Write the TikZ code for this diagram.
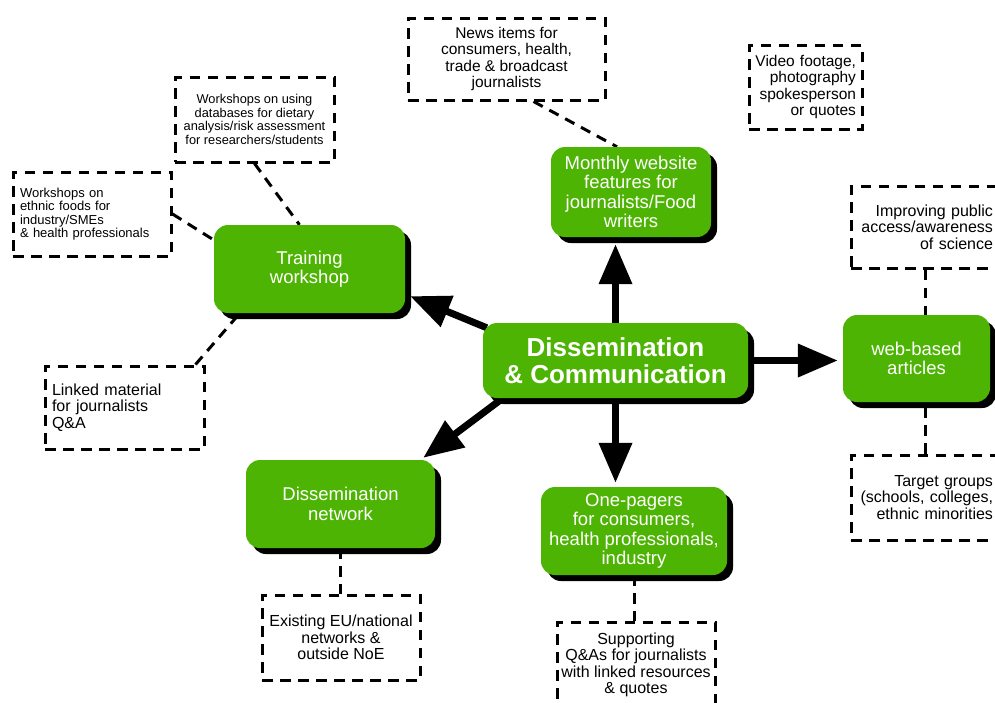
\documentclass[tikz,border=0pt]{standalone}
\usepackage{fontspec}
\setmainfont{Liberation Sans}
\usetikzlibrary{arrows.meta,shadows,backgrounds}
\definecolor{dcgreen}{RGB}{78,180,4}
\tikzset{
	hub/.style={rectangle, rounded corners=14pt, fill=dcgreen, text=white, align=center, inner sep=2pt,
		font=\fontsize{18.5}{19.5}\selectfont, general shadow={fill=black, shadow xshift=6pt, shadow yshift=-6pt}},
	note/.style={rectangle, draw, line width=3pt, dash pattern=on 10.5pt off 7.5pt, inner sep=7pt,
		font=\fontsize{15.5}{16.5}\selectfont},
	link/.style={line width=3pt, dash pattern=on 10.5pt off 7.5pt},
	flow/.style={line width=7pt, -{Triangle[width=32pt,length=40pt]}},
	boxsize/.style 2 args={minimum width=#1pt, minimum height=#2pt}
}
\begin{document}
\begin{tikzpicture}[x=1pt,y=-1pt]
	\useasboundingbox (0,0) rectangle (995,702);
	\clip (0,0) rectangle (995,702);
	\node[hub, font=\bfseries\fontsize{26}{27}\selectfont, boxsize={265}{75}] (dc) at (615.5,360.5) {Dissemination\\\& Communication};
	\node[hub, boxsize={160}{90}] (web) at (631,192) {Monthly website\\features for\\journalists/Food\\writers};
	\node[hub, boxsize={191}{88}] (train) at (309.5,269) {Training\\workshop};
	\node[hub, boxsize={147}{87}] (art) at (916.5,358.5) {web-based\\articles};
	\node[hub, boxsize={189}{88}] (net) at (340.5,504) {Dissemination\\network};
	\node[hub, boxsize={186}{88}] (onep) at (634,531) {One-pagers\\for consumers,\\health professionals,\\industry};
	\node[note, boxsize={197}{82}, align=center] (news) at (506.5,59) {News items for\\consumers, health,\\trade \& broadcast\\journalists};
	\node[note, boxsize={113}{84}, text width=101pt, inner xsep=6pt, align=right] (video) at (805.5,87) {Video footage,\\photography\\spokesperson\\or quotes};
	\node[note, boxsize={159}{85}, align=center, font=\fontsize{12.8}{13.5}\selectfont] (db) at (254.5,119.5) {Workshops on using\\databases for dietary\\analysis/risk assessment\\for researchers/students};
	\node[note, boxsize={158}{84}, text width=144pt, align=left, font=\fontsize{13}{13.5}\selectfont] (eth) at (92,214) {Workshops on\\ethnic foods for\\industry/SMEs\\\& health professionals};
	\node[note, boxsize={159}{83}, text width=145pt, align=left, font=\fontsize{16}{16.5}\selectfont] (lnk) at (124.5,407.5) {Linked material\\for journalists\\Q\&A};
	\node[note, boxsize={149}{82}, text width=135pt, align=right, font=\fontsize{16}{16.5}\selectfont] (imp) at (925.5,227) {Improving public\\access/awareness\\of science};
	\node[note, boxsize={149}{85}, text width=135pt, align=right, font=\fontsize{16}{16.5}\selectfont] (tgt) at (925.5,497.5) {Target groups\\(schools, colleges,\\ethnic minorities};
	\node[note, boxsize={158}{85}, align=center, font=\fontsize{16}{16.5}\selectfont] (ext) at (341,637.5) {Existing EU/national\\networks \&\\outside NoE};
	\node[note, boxsize={158}{86}, align=center, inner xsep=2pt, font=\fontsize{16}{16.5}\selectfont] (sup) at (636,665) {Supporting\\Q\&As for journalists\\with linked resources\\\& quotes};
	\begin{scope}[on background layer]
		\draw[link] ([xshift=27pt]news.south) -- ([xshift=-14pt]web.north);
		\draw[link] (db.south) -- ([xshift=-10pt]train.north);
		\draw[link] (eth.east) -- ([yshift=29pt]train.west);
		\draw[link] ([xshift=-10pt]lnk.north east) -- ([xshift=26pt]train.south west);
		\draw[link] (imp.south) -- (imp.south |- art.north);
		\draw[link] (tgt.north) -- (tgt.north |- art.south);
		\draw[link] (net.south) -- (net.south |- ext.north);
		\draw[link] (onep.south) -- (onep.south |- sup.north);
		\draw[flow] (dc.north) -- ([yshift=-7pt]dc.north |- web.south);
		\draw[flow] (dc.south) -- ([yshift=4pt]dc.south |- onep.north);
		\draw[flow] (dc.east) -- ([xshift=-5pt]art.west |- dc.east);
		\draw[flow] ([xshift=4pt,yshift=-5pt]dc.north west) -- ([xshift=5pt,yshift=17pt]train.south east);
		\draw[flow] ([xshift=20pt]dc.south west) -- ([xshift=-12pt,yshift=2pt]net.north east);
	\end{scope}
\end{tikzpicture}
\end{document}
